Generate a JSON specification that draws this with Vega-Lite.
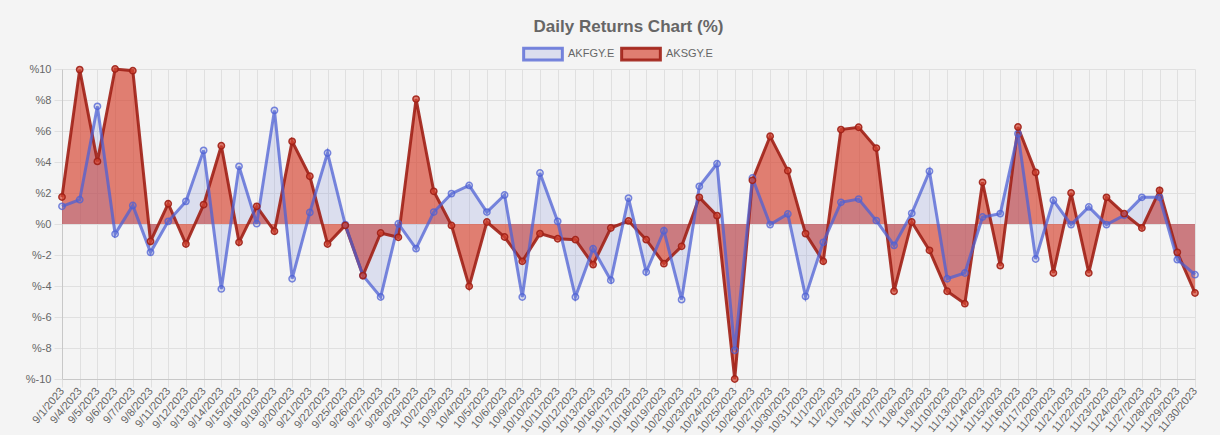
{
  "$schema": "https://vega.github.io/schema/vega-lite/v6.json",
  "width": 1133,
  "height": 310,
  "autosize": {"type": "pad"},
  "padding": {"left": 25, "top": 18, "right": 24, "bottom": 0},
  "background": "#f4f4f4",
  "title": {"text": "Daily Returns Chart (%)", "fontSize": 17, "fontWeight": "bold", "color": "#666666", "font": "Liberation Sans", "anchor": "middle", "offset": -3},
  "config": {
    "view": {"stroke": null},
    "font": "Liberation Sans",
    "legend": {
      "symbolType": "M-1,-0.3H1V0.3H-1Z",
      "symbolSize": 1500,
      "symbolStrokeWidth": 3,
      "labelFontSize": 11,
      "labelColor": "#666666",
      "labelFont": "Liberation Sans",
      "labelOffset": 4,
      "columnPadding": 0
    }
  },
  "datasets": {
    "returns": [
      {"date": "9/1/2023", "series": "AKFGY.E", "value": 1.14}, {"date": "9/1/2023", "series": "AKSGY.E", "value": 1.74},
      {"date": "9/4/2023", "series": "AKFGY.E", "value": 1.57}, {"date": "9/4/2023", "series": "AKSGY.E", "value": 9.96},
      {"date": "9/5/2023", "series": "AKFGY.E", "value": 7.59}, {"date": "9/5/2023", "series": "AKSGY.E", "value": 4.04},
      {"date": "9/6/2023", "series": "AKFGY.E", "value": -0.65}, {"date": "9/6/2023", "series": "AKSGY.E", "value": 10.0},
      {"date": "9/7/2023", "series": "AKFGY.E", "value": 1.2}, {"date": "9/7/2023", "series": "AKSGY.E", "value": 9.89},
      {"date": "9/8/2023", "series": "AKFGY.E", "value": -1.83}, {"date": "9/8/2023", "series": "AKSGY.E", "value": -1.12},
      {"date": "9/11/2023", "series": "AKFGY.E", "value": 0.17}, {"date": "9/11/2023", "series": "AKSGY.E", "value": 1.31},
      {"date": "9/12/2023", "series": "AKFGY.E", "value": 1.46}, {"date": "9/12/2023", "series": "AKSGY.E", "value": -1.29},
      {"date": "9/13/2023", "series": "AKFGY.E", "value": 4.75}, {"date": "9/13/2023", "series": "AKSGY.E", "value": 1.25},
      {"date": "9/14/2023", "series": "AKFGY.E", "value": -4.19}, {"date": "9/14/2023", "series": "AKSGY.E", "value": 5.05},
      {"date": "9/15/2023", "series": "AKFGY.E", "value": 3.72}, {"date": "9/15/2023", "series": "AKSGY.E", "value": -1.18},
      {"date": "9/18/2023", "series": "AKFGY.E", "value": 0.02}, {"date": "9/18/2023", "series": "AKSGY.E", "value": 1.14},
      {"date": "9/19/2023", "series": "AKFGY.E", "value": 7.33}, {"date": "9/19/2023", "series": "AKSGY.E", "value": -0.47},
      {"date": "9/20/2023", "series": "AKFGY.E", "value": -3.53}, {"date": "9/20/2023", "series": "AKSGY.E", "value": 5.33},
      {"date": "9/21/2023", "series": "AKFGY.E", "value": 0.75}, {"date": "9/21/2023", "series": "AKSGY.E", "value": 3.08},
      {"date": "9/22/2023", "series": "AKFGY.E", "value": 4.58}, {"date": "9/22/2023", "series": "AKSGY.E", "value": -1.29},
      {"date": "9/25/2023", "series": "AKFGY.E", "value": -0.04}, {"date": "9/25/2023", "series": "AKSGY.E", "value": -0.09},
      {"date": "9/26/2023", "series": "AKFGY.E", "value": -3.33}, {"date": "9/26/2023", "series": "AKSGY.E", "value": -3.33},
      {"date": "9/27/2023", "series": "AKFGY.E", "value": -4.71}, {"date": "9/27/2023", "series": "AKSGY.E", "value": -0.58},
      {"date": "9/28/2023", "series": "AKFGY.E", "value": 0.02}, {"date": "9/28/2023", "series": "AKSGY.E", "value": -0.86},
      {"date": "9/29/2023", "series": "AKFGY.E", "value": -1.59}, {"date": "9/29/2023", "series": "AKSGY.E", "value": 8.06},
      {"date": "10/2/2023", "series": "AKFGY.E", "value": 0.77}, {"date": "10/2/2023", "series": "AKSGY.E", "value": 2.11},
      {"date": "10/3/2023", "series": "AKFGY.E", "value": 1.96}, {"date": "10/3/2023", "series": "AKSGY.E", "value": -0.09},
      {"date": "10/4/2023", "series": "AKFGY.E", "value": 2.49}, {"date": "10/4/2023", "series": "AKSGY.E", "value": -4.02},
      {"date": "10/5/2023", "series": "AKFGY.E", "value": 0.77}, {"date": "10/5/2023", "series": "AKSGY.E", "value": 0.13},
      {"date": "10/6/2023", "series": "AKFGY.E", "value": 1.87}, {"date": "10/6/2023", "series": "AKSGY.E", "value": -0.84},
      {"date": "10/9/2023", "series": "AKFGY.E", "value": -4.71}, {"date": "10/9/2023", "series": "AKSGY.E", "value": -2.41},
      {"date": "10/10/2023", "series": "AKFGY.E", "value": 3.29}, {"date": "10/10/2023", "series": "AKSGY.E", "value": -0.62},
      {"date": "10/11/2023", "series": "AKFGY.E", "value": 0.17}, {"date": "10/11/2023", "series": "AKSGY.E", "value": -0.95},
      {"date": "10/12/2023", "series": "AKFGY.E", "value": -4.71}, {"date": "10/12/2023", "series": "AKSGY.E", "value": -1.01},
      {"date": "10/13/2023", "series": "AKFGY.E", "value": -1.59}, {"date": "10/13/2023", "series": "AKSGY.E", "value": -2.62},
      {"date": "10/16/2023", "series": "AKFGY.E", "value": -3.63}, {"date": "10/16/2023", "series": "AKSGY.E", "value": -0.26},
      {"date": "10/17/2023", "series": "AKFGY.E", "value": 1.67}, {"date": "10/17/2023", "series": "AKSGY.E", "value": 0.2},
      {"date": "10/18/2023", "series": "AKFGY.E", "value": -3.1}, {"date": "10/18/2023", "series": "AKSGY.E", "value": -1.01},
      {"date": "10/19/2023", "series": "AKFGY.E", "value": -0.43}, {"date": "10/19/2023", "series": "AKSGY.E", "value": -2.56},
      {"date": "10/20/2023", "series": "AKFGY.E", "value": -4.88}, {"date": "10/20/2023", "series": "AKSGY.E", "value": -1.44},
      {"date": "10/23/2023", "series": "AKFGY.E", "value": 2.43}, {"date": "10/23/2023", "series": "AKSGY.E", "value": 1.72},
      {"date": "10/24/2023", "series": "AKFGY.E", "value": 3.89}, {"date": "10/24/2023", "series": "AKSGY.E", "value": 0.54},
      {"date": "10/25/2023", "series": "AKFGY.E", "value": -8.15}, {"date": "10/25/2023", "series": "AKSGY.E", "value": -10.0},
      {"date": "10/26/2023", "series": "AKFGY.E", "value": 2.97}, {"date": "10/26/2023", "series": "AKSGY.E", "value": 2.82},
      {"date": "10/27/2023", "series": "AKFGY.E", "value": -0.04}, {"date": "10/27/2023", "series": "AKSGY.E", "value": 5.66},
      {"date": "10/30/2023", "series": "AKFGY.E", "value": 0.65}, {"date": "10/30/2023", "series": "AKSGY.E", "value": 3.44},
      {"date": "10/31/2023", "series": "AKFGY.E", "value": -4.67}, {"date": "10/31/2023", "series": "AKSGY.E", "value": -0.62},
      {"date": "11/1/2023", "series": "AKFGY.E", "value": -1.18}, {"date": "11/1/2023", "series": "AKSGY.E", "value": -2.41},
      {"date": "11/2/2023", "series": "AKFGY.E", "value": 1.4}, {"date": "11/2/2023", "series": "AKSGY.E", "value": 6.09},
      {"date": "11/3/2023", "series": "AKFGY.E", "value": 1.61}, {"date": "11/3/2023", "series": "AKSGY.E", "value": 6.24},
      {"date": "11/6/2023", "series": "AKFGY.E", "value": 0.22}, {"date": "11/6/2023", "series": "AKSGY.E", "value": 4.9},
      {"date": "11/7/2023", "series": "AKFGY.E", "value": -1.38}, {"date": "11/7/2023", "series": "AKSGY.E", "value": -4.34},
      {"date": "11/8/2023", "series": "AKFGY.E", "value": 0.69}, {"date": "11/8/2023", "series": "AKSGY.E", "value": 0.13},
      {"date": "11/9/2023", "series": "AKFGY.E", "value": 3.4}, {"date": "11/9/2023", "series": "AKSGY.E", "value": -1.7},
      {"date": "11/10/2023", "series": "AKFGY.E", "value": -3.53}, {"date": "11/10/2023", "series": "AKSGY.E", "value": -4.34},
      {"date": "11/13/2023", "series": "AKFGY.E", "value": -3.16}, {"date": "11/13/2023", "series": "AKSGY.E", "value": -5.14},
      {"date": "11/14/2023", "series": "AKFGY.E", "value": 0.45}, {"date": "11/14/2023", "series": "AKSGY.E", "value": 2.69},
      {"date": "11/15/2023", "series": "AKFGY.E", "value": 0.67}, {"date": "11/15/2023", "series": "AKSGY.E", "value": -2.69},
      {"date": "11/16/2023", "series": "AKFGY.E", "value": 5.83}, {"date": "11/16/2023", "series": "AKSGY.E", "value": 6.26},
      {"date": "11/17/2023", "series": "AKFGY.E", "value": -2.26}, {"date": "11/17/2023", "series": "AKSGY.E", "value": 3.33},
      {"date": "11/20/2023", "series": "AKFGY.E", "value": 1.53}, {"date": "11/20/2023", "series": "AKSGY.E", "value": -3.16},
      {"date": "11/21/2023", "series": "AKFGY.E", "value": -0.04}, {"date": "11/21/2023", "series": "AKSGY.E", "value": 2.0},
      {"date": "11/22/2023", "series": "AKFGY.E", "value": 1.1}, {"date": "11/22/2023", "series": "AKSGY.E", "value": -3.16},
      {"date": "11/23/2023", "series": "AKFGY.E", "value": -0.04}, {"date": "11/23/2023", "series": "AKSGY.E", "value": 1.72},
      {"date": "11/24/2023", "series": "AKFGY.E", "value": 0.56}, {"date": "11/24/2023", "series": "AKSGY.E", "value": 0.67},
      {"date": "11/27/2023", "series": "AKFGY.E", "value": 1.72}, {"date": "11/27/2023", "series": "AKSGY.E", "value": -0.26},
      {"date": "11/28/2023", "series": "AKFGY.E", "value": 1.72}, {"date": "11/28/2023", "series": "AKSGY.E", "value": 2.17},
      {"date": "11/29/2023", "series": "AKFGY.E", "value": -2.3}, {"date": "11/29/2023", "series": "AKSGY.E", "value": -1.83},
      {"date": "11/30/2023", "series": "AKFGY.E", "value": -3.27}, {"date": "11/30/2023", "series": "AKSGY.E", "value": -4.45}
    ]
  },
  "data": {"name": "returns"},
  "encoding": {
    "x": {
      "field": "date", "type": "nominal", "sort": null,
      "scale": {"type": "point", "padding": 0},
      "axis": {
        "title": null, "labelAngle": -50, "labelAlign": "right", "labelBaseline": "middle",
        "grid": true, "gridColor": "#e0e0e0", "tickSize": 8, "tickColor": "#e0e0e0",
        "domainColor": "#c8c8c8", "labelFontSize": 11, "labelColor": "#666666", "labelPadding": 2, "labelOverlap": false
      }
    },
    "y": {
      "field": "value", "type": "quantitative",
      "scale": {"domain": [-10, 10], "nice": false},
      "axis": {
        "title": null, "values": [-10, -8, -6, -4, -2, 0, 2, 4, 6, 8, 10],
        "labelExpr": "'%' + datum.value", "gridColor": "#e0e0e0", "domainColor": "#c8c8c8",
        "tickSize": 8, "tickColor": "#e0e0e0", "labelFontSize": 11, "labelColor": "#666666", "labelPadding": 3
      }
    }
  },
  "layer": [
    {
      "transform": [{"filter": "datum.series == 'AKSGY.E'"}],
      "mark": {"type": "area"},
      "encoding": {
        "y2": {"datum": 0},
        "fill": {"field": "series", "type": "nominal",
          "scale": {"domain": ["AKFGY.E", "AKSGY.E"], "range": ["rgba(92,112,214,0.16)", "rgba(214,70,50,0.68)"]},
          "legend": {"orient": "none", "legendX": 460, "legendY": -36, "direction": "horizontal", "title": null}}
      }
    },
    {
      "transform": [{"filter": "datum.series == 'AKFGY.E'"}],
      "mark": {"type": "area"},
      "encoding": {
        "y2": {"datum": 0},
        "fill": {"field": "series", "type": "nominal"}
      }
    },
    {
      "transform": [{"filter": "datum.series == 'AKSGY.E'"}],
      "mark": {"type": "line", "strokeWidth": 3},
      "encoding": {
        "stroke": {"field": "series", "type": "nominal",
          "scale": {"domain": ["AKFGY.E", "AKSGY.E"], "range": ["rgba(78,96,212,0.75)", "rgba(160,32,22,0.9)"]},
          "legend": {"orient": "none", "legendX": 460, "legendY": -36, "direction": "horizontal", "title": null}}
      }
    },
    {
      "transform": [{"filter": "datum.series == 'AKFGY.E'"}],
      "mark": {"type": "line", "strokeWidth": 3},
      "encoding": {
        "stroke": {"field": "series", "type": "nominal"}
      }
    },
    {
      "mark": {"type": "point", "filled": true, "size": 40, "strokeWidth": 1.5, "opacity": 1},
      "encoding": {
        "fill": {"field": "series", "type": "nominal"},
        "stroke": {"field": "series", "type": "nominal"}
      }
    }
  ]
}
